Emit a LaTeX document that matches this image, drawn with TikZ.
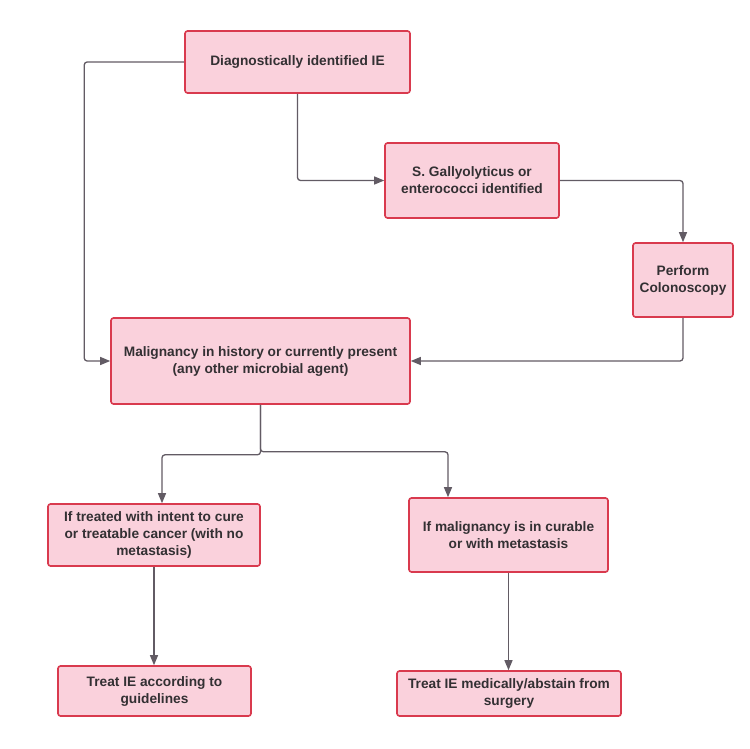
\documentclass[tikz,border=0pt]{standalone}
\usepackage{fontspec}
\setmainfont{Liberation Sans}
\usetikzlibrary{arrows.meta}
\definecolor{boxfill}{HTML}{FAD1DC}
\definecolor{boxline}{HTML}{D93A4E}
\definecolor{linegray}{HTML}{625B64}
\definecolor{textgray}{HTML}{333033}
\tikzset{
  stepbox/.style={draw=boxline, line width=1.6pt, fill=boxfill, rounded corners=2.5pt,
    align=center, font=\bfseries\fontsize{13.7}{17}\selectfont, text=textgray, inner sep=0pt},
  arr/.style={draw=linegray, line width=1.3pt, rounded corners=3pt, -{Triangle[length=10pt,width=8pt]}}
}
\begin{document}
\begin{tikzpicture}[x=1pt, y=-1pt]
  \useasboundingbox (0,0) rectangle (750,749);
  % Boxes
  \node[stepbox, minimum width=225pt, minimum height=62pt] (diag) at (297.5,62) {Diagnostically identified IE};
  \node[stepbox, minimum width=174pt, minimum height=75pt] (gall) at (472,180.5) {S. Gallyolyticus or\\enterococci identified};
  \node[stepbox, minimum width=100pt, minimum height=74pt] (colo) at (683,280) {Perform\\Colonoscopy};
  \node[stepbox, minimum width=299pt, minimum height=86pt] (malig) at (260.5,361) {Malignancy in history or currently present\\(any other microbial agent)};
  \node[stepbox, minimum width=212pt, minimum height=62pt] (cure) at (154,535) {If treated with intent to cure\\or treatable cancer (with no\\metastasis)};
  \node[stepbox, minimum width=199pt, minimum height=74pt] (meta) at (508.5,535) {If malignancy is in curable\\or with metastasis};
  \node[stepbox, minimum width=193pt, minimum height=50pt] (guide) at (154.5,691) {Treat IE according to\\guidelines};
  \node[stepbox, minimum width=224pt, minimum height=45pt] (medic) at (509,693.5) {Treat IE medically/abstain from\\surgery};
  % Connectors
  \draw[arr] (diag.west) -- ++(-100,0) |- (malig.west);
  \draw[arr] (diag.south) |- (gall.west);
  \draw[arr] (gall.east) -| (colo.north);
  \draw[arr] (colo.south) |- (malig.east);
  \draw[arr] (malig.south) -- ++(0,50) -| ([xshift=8pt]cure.north);
  \draw[arr] (malig.south) -- ++(0,47) -| ([xshift=-60.5pt]meta.north);
  \draw[arr] (cure.south) -- (cure.south |- guide.north);
  \draw[arr] (meta.south) -- (meta.south |- medic.north);
\end{tikzpicture}
\end{document}
